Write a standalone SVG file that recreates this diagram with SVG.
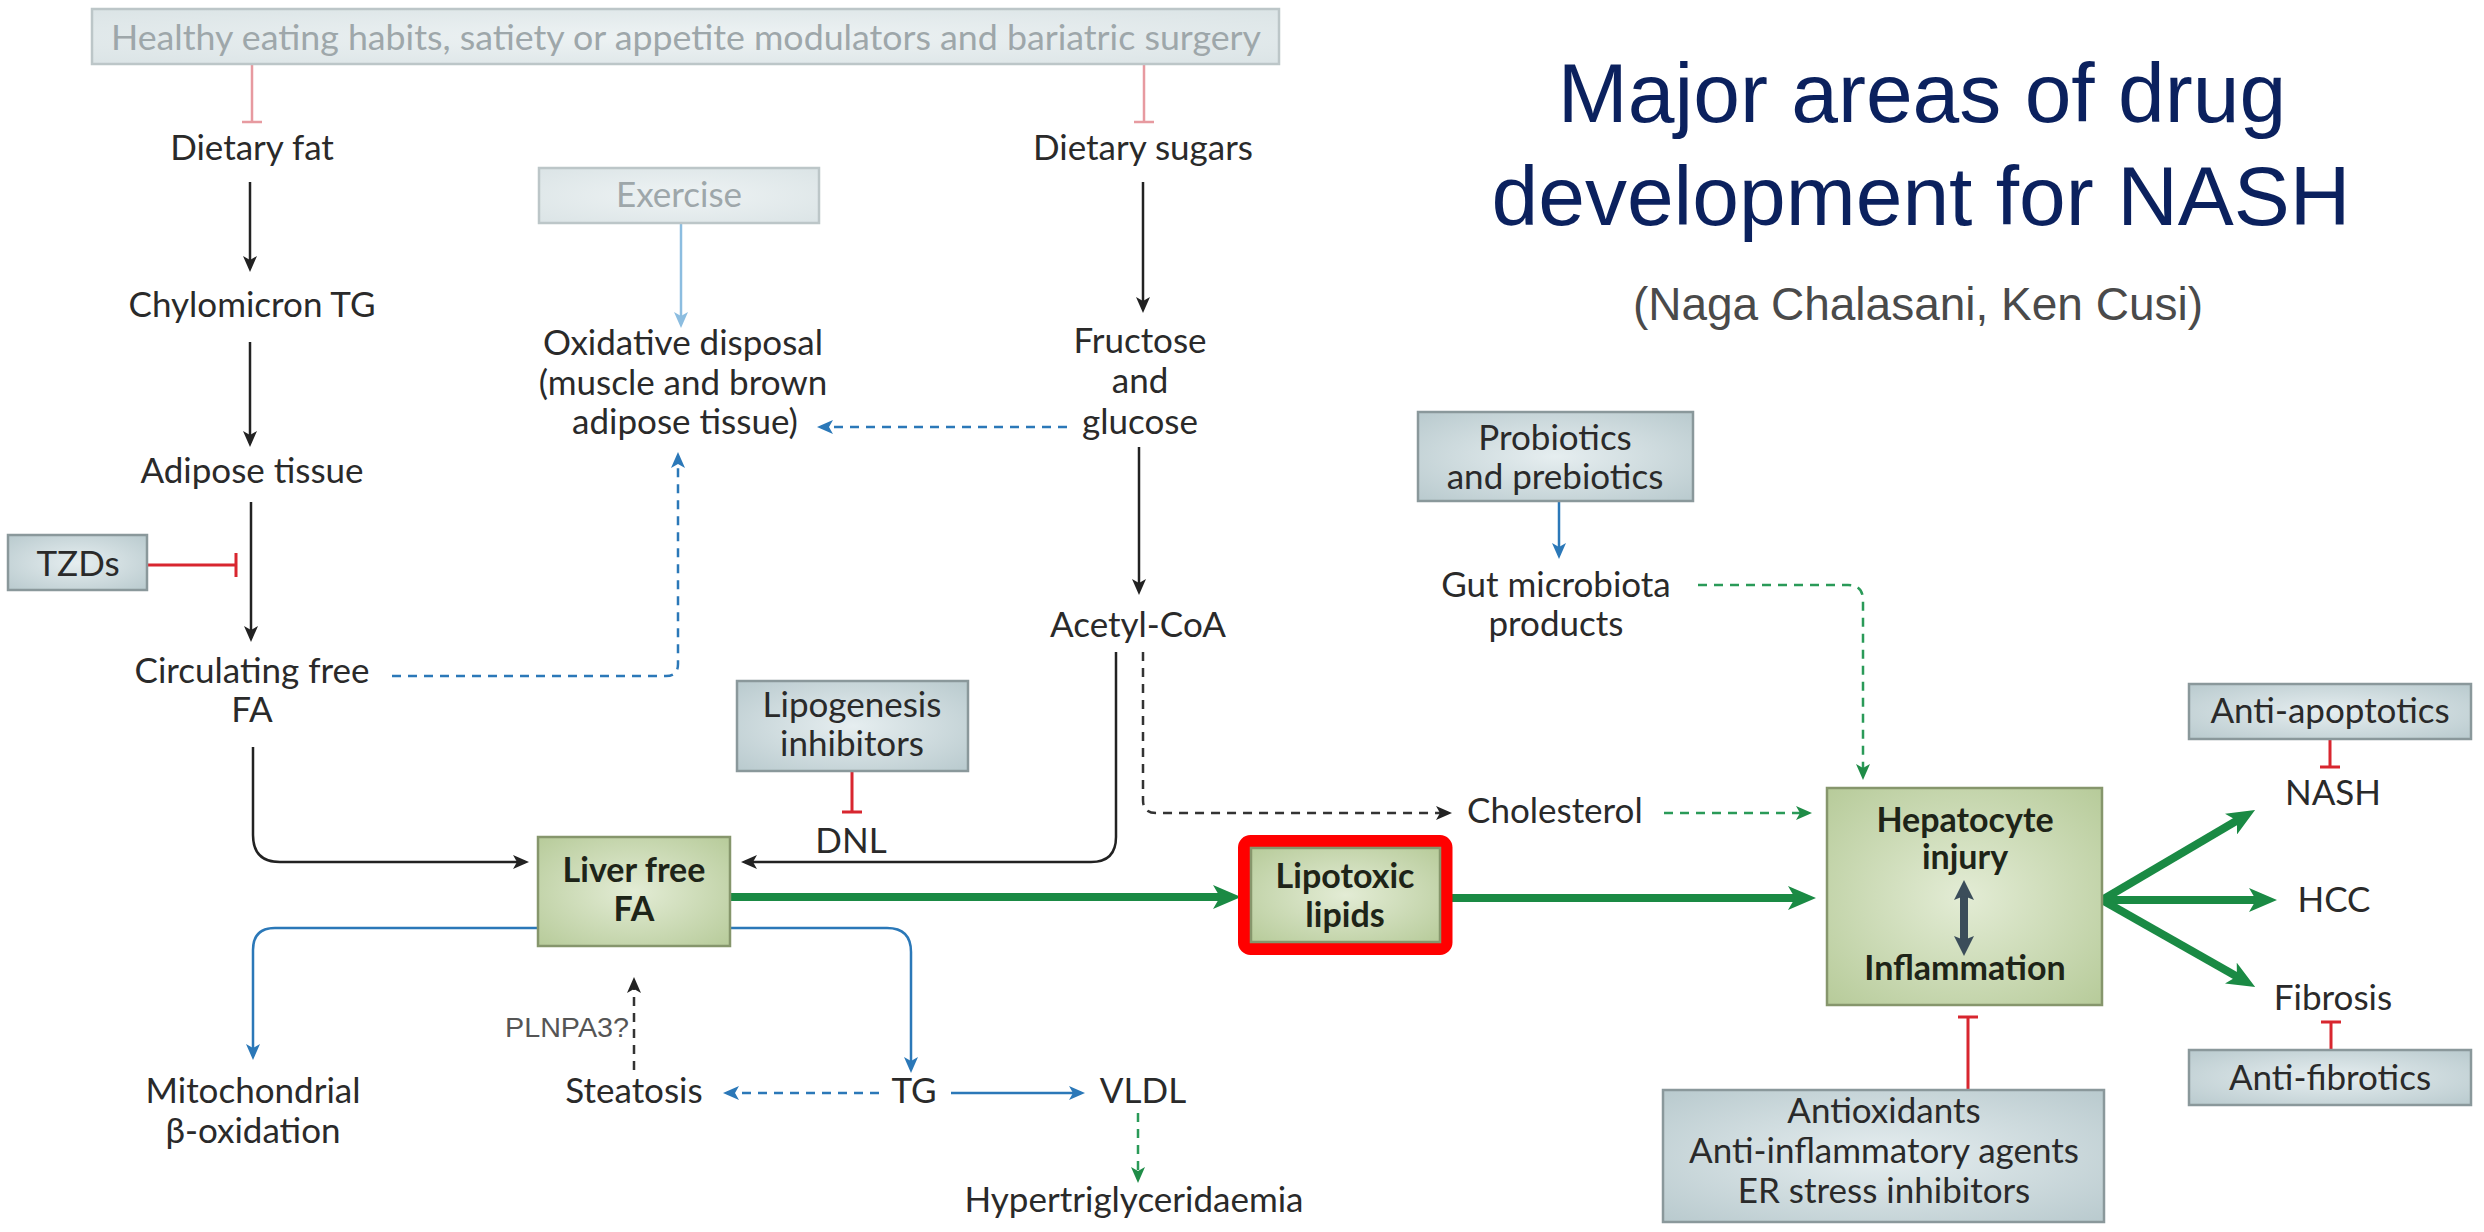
<svg xmlns="http://www.w3.org/2000/svg" width="2484" height="1232" viewBox="0 0 2484 1232">
<defs>
<radialGradient id="gDrug" cx="50%" cy="50%" r="70%"><stop offset="0" stop-color="#e6eef0"/><stop offset="1" stop-color="#b9cace"/></radialGradient>
<radialGradient id="gLight" cx="50%" cy="50%" r="70%"><stop offset="0" stop-color="#eef3f4"/><stop offset="1" stop-color="#dbe4e6"/></radialGradient>
<radialGradient id="gGreen" cx="50%" cy="50%" r="70%"><stop offset="0" stop-color="#e3ecd5"/><stop offset="1" stop-color="#b7cb9a"/></radialGradient>
<marker id="aBlack" markerUnits="userSpaceOnUse" markerWidth="16" markerHeight="14" viewBox="0 0 16 14" refX="12" refY="7" orient="auto"><path d="M0,0 L16,7 L0,14 L4,7 Z" fill="#222"/></marker>
<marker id="aBlue" markerUnits="userSpaceOnUse" markerWidth="16" markerHeight="14" viewBox="0 0 16 14" refX="12" refY="7" orient="auto"><path d="M0,0 L16,7 L0,14 L4,7 Z" fill="#2b78b8"/></marker>
<marker id="aLBlue" markerUnits="userSpaceOnUse" markerWidth="16" markerHeight="14" viewBox="0 0 16 14" refX="12" refY="7" orient="auto"><path d="M0,0 L16,7 L0,14 L4,7 Z" fill="#8cbde0"/></marker>
<marker id="aGreen" markerUnits="userSpaceOnUse" markerWidth="16" markerHeight="14" viewBox="0 0 16 14" refX="12" refY="7" orient="auto"><path d="M0,0 L16,7 L0,14 L4,7 Z" fill="#1f8c47"/></marker>
<marker id="aGreenBig" markerUnits="userSpaceOnUse" markerWidth="28" markerHeight="24" viewBox="0 0 28 24" refX="14" refY="12" orient="auto"><path d="M0,0 L28,12 L0,24 L7,12 Z" fill="#1a8a44"/></marker>
<marker id="aDark" markerUnits="userSpaceOnUse" markerWidth="20" markerHeight="20" viewBox="0 0 20 20" refX="8" refY="10" orient="auto-start-reverse"><path d="M0,0 L20,10 L0,20 L4,10 Z" fill="#3b4d5a"/></marker>
</defs>
<style>
text{font-family:Lato,"Open Sans","Liberation Sans",sans-serif;font-size:35px;fill:#2a2a2a;text-anchor:middle}
.b{font-weight:bold;fill:#1e2418;font-size:34px}
.lt{fill:#9ea7aa}
.drug{fill:url(#gDrug);stroke:#8a989b;stroke-width:2.5}
.light{fill:url(#gLight);stroke:#bcc6c8;stroke-width:2.5}
.green{fill:url(#gGreen);stroke:#86966c;stroke-width:2.5}
.title{font-family:"Liberation Sans",Arial,sans-serif;font-size:84px;fill:#0b215e}
.sub{font-family:"Liberation Sans",Arial,sans-serif;font-size:46px;fill:#4a4a4a}
.k{fill:none;stroke:#222;stroke-width:2.5}
.kd{fill:none;stroke:#333;stroke-width:2.5;stroke-dasharray:9 7}
.bl{fill:none;stroke:#2b78b8;stroke-width:2.5}
.bld{fill:none;stroke:#2b78b8;stroke-width:2.5;stroke-dasharray:9 7}
.lb{fill:none;stroke:#8cbde0;stroke-width:2.5}
.gd{fill:none;stroke:#2a9a58;stroke-width:2.5;stroke-dasharray:9 7}
.gt{fill:none;stroke:#1a8a44;stroke-width:8}
.r{fill:none;stroke:#d8262f;stroke-width:3}
.rl{fill:none;stroke:#e79aa0;stroke-width:2.5}
</style>

<g id="title">
<text class="title" x="1922" y="122">Major areas of drug</text>
<text class="title" x="1921" y="225">development for NASH</text>
<text class="sub" x="1918" y="320">(Naga Chalasani, Ken Cusi)</text>
</g>

<g id="connectors">
<path class="rl" d="M252 64 V122 M242 122 H262"/>
<path class="rl" d="M1144 64 V122 M1134 122 H1154"/>
<path class="k" d="M250 182 V268" marker-end="url(#aBlack)"/>
<path class="k" d="M250 342 V443" marker-end="url(#aBlack)"/>
<path class="k" d="M251 502 V638" marker-end="url(#aBlack)"/>
<path class="r" d="M147 565 H236 M236 553 V577"/>
<path class="bld" d="M392 676 H666 Q678 676 678 664 V456" marker-end="url(#aBlue)"/>
<path class="lb" d="M681 223 V324" marker-end="url(#aLBlue)"/>
<path class="k" d="M1143 182 V309" marker-end="url(#aBlack)"/>
<path class="bld" d="M1067 427 H821" marker-end="url(#aBlue)"/>
<path class="k" d="M1139 447 V591" marker-end="url(#aBlack)"/>
<path class="k" d="M1116 652 V837 Q1116 862 1091 862 H745" marker-end="url(#aBlack)"/>
<path class="kd" d="M1143 652 V800 Q1143 813 1156 813 H1448" marker-end="url(#aBlack)"/>
<path class="r" d="M852 771 V812 M842 812 H862"/>
<path class="k" d="M253 747 V835 Q253 862 280 862 H525" marker-end="url(#aBlack)"/>
<path class="gt" d="M730 897 H1227" marker-end="url(#aGreenBig)"/>
<path class="bl" d="M538 928 H275 Q253 928 253 950 V1056" marker-end="url(#aBlue)"/>
<path class="bl" d="M730 928 H887 Q911 928 911 952 V1069" marker-end="url(#aBlue)"/>
<path class="kd" d="M634 1070 V981" marker-end="url(#aBlack)"/>
<path class="bld" d="M879 1093 H727" marker-end="url(#aBlue)"/>
<path class="bl" d="M951 1093 H1081" marker-end="url(#aBlue)"/>
<path class="gd" d="M1138 1113 V1179" marker-end="url(#aGreen)"/>
<path class="gt" d="M1452 898 H1802" marker-end="url(#aGreenBig)"/>
<path class="bl" d="M1559 501 V555" marker-end="url(#aBlue)"/>
<path class="gd" d="M1698 585 H1848 Q1863 585 1863 600 V776" marker-end="url(#aGreen)"/>
<path class="gd" d="M1664 813 H1808" marker-end="url(#aGreen)"/>
<path class="gt" d="M2102 900 L2243 817" marker-end="url(#aGreenBig)"/>
<path class="gt" d="M2102 900 H2263" marker-end="url(#aGreenBig)"/>
<path class="gt" d="M2102 900 L2243 980" marker-end="url(#aGreenBig)"/>
<path class="r" d="M2330 739 V767 M2320 767 H2340"/>
<path class="r" d="M2331 1050 V1022 M2321 1022 H2341"/>
<path class="r" d="M1968 1090 V1017 M1958 1017 H1978"/>
</g>

<g id="n-healthy"><rect class="light" x="92" y="9" width="1187" height="55"/><text class="lt" x="686" y="50" font-size="32" textLength="1150" lengthAdjust="spacingAndGlyphs">Healthy eating habits, satiety or appetite modulators and bariatric surgery</text></g>
<g id="n-dietfat"><text x="252" y="160">Dietary fat</text></g>
<g id="n-chylo"><text x="252" y="317">Chylomicron TG</text></g>
<g id="n-adipose"><text x="252" y="483">Adipose tissue</text></g>
<g id="n-tzd"><rect class="drug" x="8" y="535" width="139" height="55"/><text x="78" y="576">TZDs</text></g>
<g id="n-circ"><text x="252" y="683">Circulating free</text><text x="252" y="722">FA</text></g>
<g id="n-exercise"><rect class="light" x="539" y="168" width="280" height="55"/><text class="lt" x="679" y="207">Exercise</text></g>
<g id="n-oxid"><text x="683" y="355">Oxidative disposal</text><text x="683" y="395">(muscle and brown</text><text x="685" y="434">adipose tissue)</text></g>
<g id="n-sugars"><text x="1143" y="160">Dietary sugars</text></g>
<g id="n-fructose"><text x="1140" y="353">Fructose</text><text x="1140" y="393">and</text><text x="1140" y="434">glucose</text></g>
<g id="n-acetyl"><text x="1138" y="637">Acetyl-CoA</text></g>
<g id="n-lipogen"><rect class="drug" x="737" y="681" width="231" height="90"/><text x="852" y="717">Lipogenesis</text><text x="852" y="756">inhibitors</text></g>
<g id="n-dnl"><text x="851" y="853">DNL</text></g>
<g id="n-liverfa"><rect class="green" x="538" y="837" width="192" height="109"/><text class="b" x="634" y="882">Liver free</text><text class="b" x="634" y="921">FA</text></g>
<g id="n-lipotoxic"><rect x="1244.5" y="841.5" width="201.5" height="107" rx="6" fill="none" stroke="#ff0000" stroke-width="13"/><rect class="green" x="1251" y="848" width="189" height="94" stroke-width="1.5"/><text class="b" x="1345" y="888">Lipotoxic</text><text class="b" x="1345" y="927">lipids</text></g>
<g id="n-mito"><text x="253" y="1103">Mitochondrial</text><text x="253" y="1143">β-oxidation</text></g>
<g id="n-plnpa3"><text x="567" y="1037" style="font-family:'Liberation Sans',Arial,sans-serif;font-size:27px;fill:#555" textLength="124" lengthAdjust="spacingAndGlyphs">PLNPA3?</text></g>
<g id="n-steatosis"><text x="634" y="1103">Steatosis</text></g>
<g id="n-tg"><text x="914" y="1103">TG</text></g>
<g id="n-vldl"><text x="1143" y="1103">VLDL</text></g>
<g id="n-hyper"><text x="1134" y="1212">Hypertriglyceridaemia</text></g>
<g id="n-probiotics"><rect class="drug" x="1418" y="412" width="275" height="89"/><text x="1555" y="450">Probiotics</text><text x="1555" y="489">and prebiotics</text></g>
<g id="n-gut"><text x="1556" y="597">Gut microbiota</text><text x="1556" y="636">products</text></g>
<g id="n-chol"><text x="1467" y="823" style="text-anchor:start">Cholesterol</text></g>
<g id="n-hepato"><rect class="green" x="1827" y="788" width="275" height="217"/><text class="b" x="1965" y="832">Hepatocyte</text><text class="b" x="1965" y="869">injury</text><path d="M1964 892 V944" stroke="#3b4d5a" stroke-width="8" fill="none" marker-start="url(#aDark)" marker-end="url(#aDark)"/><text class="b" x="1965" y="980">Inflammation</text></g>
<g id="n-antiapop"><rect class="drug" x="2189" y="684" width="282" height="55"/><text x="2330" y="723">Anti-apoptotics</text></g>
<g id="n-nash"><text x="2333" y="805">NASH</text></g>
<g id="n-hcc"><text x="2334" y="912">HCC</text></g>
<g id="n-fibrosis"><text x="2333" y="1010">Fibrosis</text></g>
<g id="n-antifib"><rect class="drug" x="2189" y="1050" width="282" height="55"/><text x="2330" y="1090">Anti-fibrotics</text></g>
<g id="n-antiox"><rect class="drug" x="1663" y="1090" width="441" height="132"/><text x="1884" y="1123">Antioxidants</text><text x="1884" y="1163">Anti-inflammatory agents</text><text x="1884" y="1203">ER stress inhibitors</text></g>
</svg>
